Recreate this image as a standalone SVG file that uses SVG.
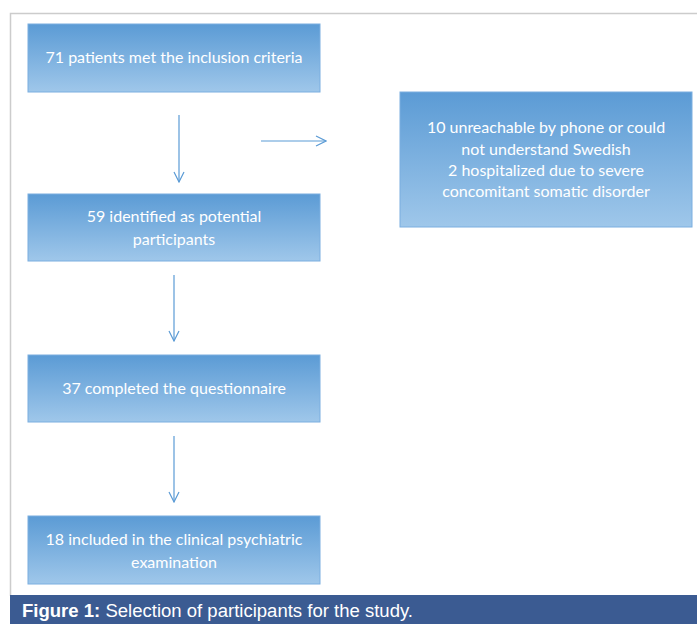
<svg xmlns="http://www.w3.org/2000/svg" width="697" height="624" viewBox="0 0 697 624">
<defs>
<linearGradient id="g" x1="0" y1="0" x2="0" y2="1">
<stop offset="0" stop-color="#5b9bd5"/>
<stop offset="1" stop-color="#9fc7ea"/>
</linearGradient>
<marker id="ah" viewBox="0 0 12 12" refX="11" refY="6" markerWidth="12" markerHeight="12" markerUnits="userSpaceOnUse" orient="auto">
<path d="M1 1 L11 6 L1 11" fill="none" stroke="#5b9bd5" stroke-width="1.2"/>
</marker>
</defs>
<style>
.box{fill:url(#g);stroke:#7aaee0;stroke-width:1}
.t{font-family:Lato,"Open Sans",sans-serif;font-size:16px;fill:#ffffff;text-anchor:middle}
.c{stroke:#5b9bd5;stroke-width:1.2;fill:none;marker-end:url(#ah)}
.cap{font-family:"Liberation Sans",Arial,sans-serif;font-size:18px;fill:#ffffff}
</style>
<rect x="0" y="0" width="697" height="624" fill="#ffffff"/>
<path d="M10.5 596 V13.5 H697" fill="none" stroke="#cccccc" stroke-width="1.5"/>
<g id="n1"><rect class="box" x="28" y="24" width="292" height="68"/><text class="t" x="174" y="63">71 patients met the inclusion criteria</text></g>
<g id="n2"><rect class="box" x="28" y="194" width="292" height="67"/><text class="t" x="174" y="222">59 identified as potential</text><text class="t" x="174" y="245">participants</text></g>
<g id="n3"><rect class="box" x="28" y="355" width="292" height="67"/><text class="t" x="174" y="394">37 completed the questionnaire</text></g>
<g id="n4"><rect class="box" x="28" y="516" width="292" height="68"/><text class="t" x="174" y="545">18 included in the clinical psychiatric</text><text class="t" x="174" y="568">examination</text></g>
<g id="n5"><rect class="box" x="400" y="92" width="292" height="135"/><text class="t" x="546" y="133">10 unreachable by phone or could</text><text class="t" x="546" y="155">not understand Swedish</text><text class="t" x="546" y="176">2 hospitalized due to severe</text><text class="t" x="546" y="197">concomitant somatic disorder</text></g>
<g id="connectors">
<line class="c" x1="179" y1="115" x2="179" y2="182"/>
<line class="c" x1="261" y1="141" x2="326" y2="141"/>
<line class="c" x1="174" y1="275" x2="174" y2="341"/>
<line class="c" x1="174" y1="436" x2="174" y2="502"/>
</g>
<g id="caption"><rect x="10" y="595" width="687" height="29" fill="#3b5b92"/><text class="cap" x="22" y="617" textLength="391" lengthAdjust="spacingAndGlyphs"><tspan font-weight="bold">Figure 1:</tspan> Selection of participants for the study.</text></g>
</svg>
